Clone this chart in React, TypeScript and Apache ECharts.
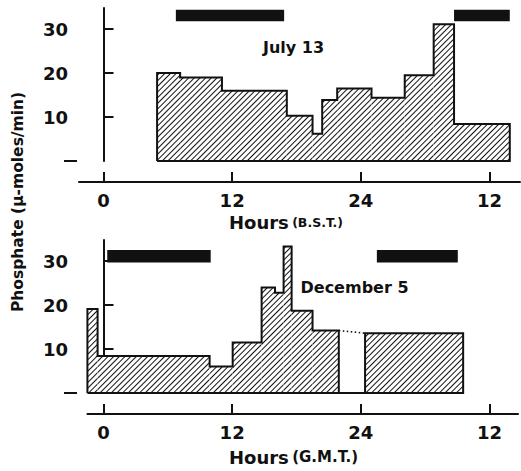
import { useEffect, useRef } from "react";
import * as echarts from "echarts";

// ---- data ----
const hourTicks = [0, 12, 24, 36];
const hourTickLabels = ["0", "12", "24", "12"];
const phosphateTicks = [10, 20, 30];

// July 13 (B.S.T.) histogram: bin edges (hours) and phosphate (µmoles/min)
const julyEdges = [5.0, 7.15, 11.05, 17.1, 19.5, 20.4, 21.8, 25.0, 28.1, 30.8, 32.7, 37.9];
const julyValues = [20.0, 19.0, 16.0, 10.3, 6.2, 13.9, 16.5, 14.4, 19.5, 31.1, 8.4];
const julyDarkStart = [6.75, 32.7];
const julyDarkEnd = [16.85, 37.9];
const julyDarkLow = 31.8;
const julyDarkHigh = 34.4;

// December 5 (G.M.T.) histogram; null = missing sample
const decEdges = [-1.5, -0.55, 9.9, 12.05, 14.75, 16.0, 16.8, 17.55, 19.5, 21.95, 24.4, 33.55];
const decValues: (number | null)[] = [19.1, 8.4, 6.0, 11.5, 24.0, 22.8, 33.3, 18.7, 14.2, null, 13.6];
const decDarkStart = [0.35, 25.5];
const decDarkEnd = [10.0, 33.05];
const decDarkLow = 29.7;
const decDarkHigh = 32.5;

const INK = "#111";
const FONT = "DejaVu Sans";

function segments(edges: number[], values: (number | null)[]) {
  const out: number[][] = [];
  values.forEach((v, i) => {
    if (v !== null) out.push([edges[i], edges[i + 1], v]);
  });
  return out;
}

function outline(edges: number[], values: (number | null)[]) {
  const pts: number[][] = [[edges[0], 0]];
  values.forEach((v, i) => {
    const y = v === null ? 0 : v;
    pts.push([edges[i], y], [edges[i + 1], y]);
  });
  pts.push([edges[edges.length - 1], 0], [edges[0], 0]);
  return pts;
}

function gapLines(edges: number[], values: (number | null)[]) {
  const out: (number[] | null)[] = [];
  values.forEach((v, i) => {
    if (v === null && i > 0 && i < values.length - 1) {
      out.push([edges[i], values[i - 1] as number], [edges[i + 1], values[i + 1] as number], null);
    }
  });
  return out.map((p) => (p === null ? "-" : p));
}

const hatch = {
  symbol: "rect",
  symbolSize: 1,
  color: INK,
  backgroundColor: "#fff",
  dashArrayX: [1, 0],
  dashArrayY: [1, 3],
  rotation: -Math.PI / 4,
};

function hatchSeries(idx: number, data: number[][]) {
  return {
    type: "custom",
    xAxisIndex: idx,
    yAxisIndex: idx * 2,
    clip: false,
    silent: true,
    encode: { x: [0, 1], y: 2 },
    data,
    renderItem: (_p: any, api: any) => {
      const a = api.coord([api.value(0), api.value(2)]);
      const b = api.coord([api.value(1), 0]);
      return {
        type: "rect",
        shape: { x: a[0], y: a[1], width: b[0] - a[0], height: b[1] - a[1] },
        style: { fill: "#fff", decal: hatch },
      };
    },
  };
}

function darkSeries(idx: number, starts: number[], ends: number[], low: number, high: number) {
  return {
    type: "custom",
    xAxisIndex: idx,
    yAxisIndex: idx * 2,
    clip: false,
    silent: true,
    encode: { x: [0, 1], y: [2, 3] },
    data: starts.map((s, i) => [s, ends[i], low, high]),
    renderItem: (_p: any, api: any) => {
      const a = api.coord([api.value(0), api.value(3)]);
      const b = api.coord([api.value(1), api.value(2)]);
      return {
        type: "rect",
        shape: { x: a[0], y: a[1], width: b[0] - a[0], height: b[1] - a[1] },
        style: { fill: INK },
      };
    },
  };
}

function outlineSeries(idx: number, data: any[], dotted = false) {
  return {
    type: "line",
    xAxisIndex: idx,
    yAxisIndex: idx * 2,
    data,
    symbol: "none",
    silent: true,
    clip: false,
    connectNulls: false,
    z: 5,
    lineStyle: { color: INK, width: dotted ? 1.6 : 2, type: dotted ? [1.5, 2.5] : "solid", join: "miter" },
  };
}

const GRID_TOP = { left: 79, right: 521 - 520, top: 8, height: 153 };
const GRID_BOT = { left: 87.42, right: 521 - 518, top: 240, height: 153 };
const PX_PER_H = 10.72;
const ZERO_X = 103.5;
const YMAX = 34.8;

function xAxis(idx: number, grid: any) {
  return {
    gridIndex: idx,
    type: "value",
    min: (grid.left - ZERO_X) / PX_PER_H,
    max: (521 - grid.right - ZERO_X) / PX_PER_H,
    offset: 21,
    axisLine: { show: true, onZero: false, lineStyle: { color: INK, width: 2 } },
    axisTick: { show: true, inside: true, length: 10, customValues: hourTicks, lineStyle: { color: INK, width: 2 } },
    axisLabel: {
      show: true,
      customValues: hourTicks,
      margin: 9,
      color: INK,
      fontFamily: FONT,
      fontWeight: "bold",
      fontSize: 18,
      formatter: (v: number) => hourTickLabels[hourTicks.indexOf(v)] ?? "",
    },
    splitLine: { show: false },
  };
}

function yAxes(idx: number, grid: any) {
  return [
    {
      gridIndex: idx,
      type: "value",
      min: 0,
      max: YMAX,
      position: "left",
      offset: grid.left - 72,
      axisLine: { show: true, lineStyle: { color: INK, width: 2 } },
      axisTick: { show: true, inside: true, length: 10, customValues: phosphateTicks, lineStyle: { color: INK, width: 2 } },
      axisLabel: {
        show: true,
        customValues: phosphateTicks,
        margin: 4,
        color: INK,
        fontFamily: FONT,
        fontWeight: "bold",
        fontSize: 18,
      },
      splitLine: { show: false },
    },
    {
      gridIndex: idx,
      type: "value",
      min: 0,
      max: YMAX,
      position: "left",
      offset: grid.left - 77,
      axisLine: { show: false },
      axisTick: { show: true, inside: false, length: 13, customValues: [0], lineStyle: { color: INK, width: 2 } },
      axisLabel: { show: false },
      splitLine: { show: false },
    },
  ];
}

export default function App() {
  const ref = useRef<HTMLDivElement>(null);
  useEffect(() => {
    if (!ref.current) return;
    const chart = echarts.init(ref.current, null, { renderer: "svg" });
    const hoursRich = (small: number) => ({
      a: { fontFamily: FONT, fontWeight: "bold", fontSize: 18, fill: INK, color: INK },
      b: { fontFamily: FONT, fontWeight: "bold", fontSize: small, fill: INK, color: INK },
    });
    chart.setOption({
      animation: false,
      backgroundColor: "#fff",
      grid: [GRID_TOP, GRID_BOT],
      xAxis: [xAxis(0, GRID_TOP), xAxis(1, GRID_BOT)],
      yAxis: [...yAxes(0, GRID_TOP), ...yAxes(1, GRID_BOT)],
      series: [
        hatchSeries(0, segments(julyEdges, julyValues)),
        outlineSeries(0, outline(julyEdges, julyValues)),
        darkSeries(0, julyDarkStart, julyDarkEnd, julyDarkLow, julyDarkHigh),
        hatchSeries(1, segments(decEdges, decValues)),
        outlineSeries(1, outline(decEdges, decValues)),
        outlineSeries(1, gapLines(decEdges, decValues), true),
        darkSeries(1, decDarkStart, decDarkEnd, decDarkLow, decDarkHigh),
      ],
      graphic: [
        {
          type: "text",
          x: 263,
          y: 47,
          style: { text: "July 13", fill: INK, font: `bold 16px "${FONT}"`, verticalAlign: "middle" },
        },
        {
          type: "text",
          x: 300.5,
          y: 287,
          style: { text: "December 5", fill: INK, font: `bold 16px "${FONT}"`, verticalAlign: "middle" },
        },
        {
          type: "text",
          x: 18,
          y: 202,
          rotation: Math.PI / 2,
          style: {
            text: "Phosphate (\u03bc-moles/min)",
            fill: INK,
            font: `bold 15.5px "${FONT}"`,
            align: "center",
            verticalAlign: "middle",
          },
        },
        {
          type: "text",
          x: 229,
          y: 222,
          style: {
            text: "{a|Hours} {b|(B.S.T.)}",
            rich: hoursRich(12.5),
            verticalAlign: "middle",
          },
        },
        {
          type: "text",
          x: 229,
          y: 457,
          style: {
            text: "{a|Hours} {b|(G.M.T.)}",
            rich: hoursRich(15),
            verticalAlign: "middle",
          },
        },
      ],
    });
    return () => chart.dispose();
  }, []);
  return <div ref={ref} style={{ position: "fixed", left: 0, top: 0, width: 521, height: 471 }} />;
}
